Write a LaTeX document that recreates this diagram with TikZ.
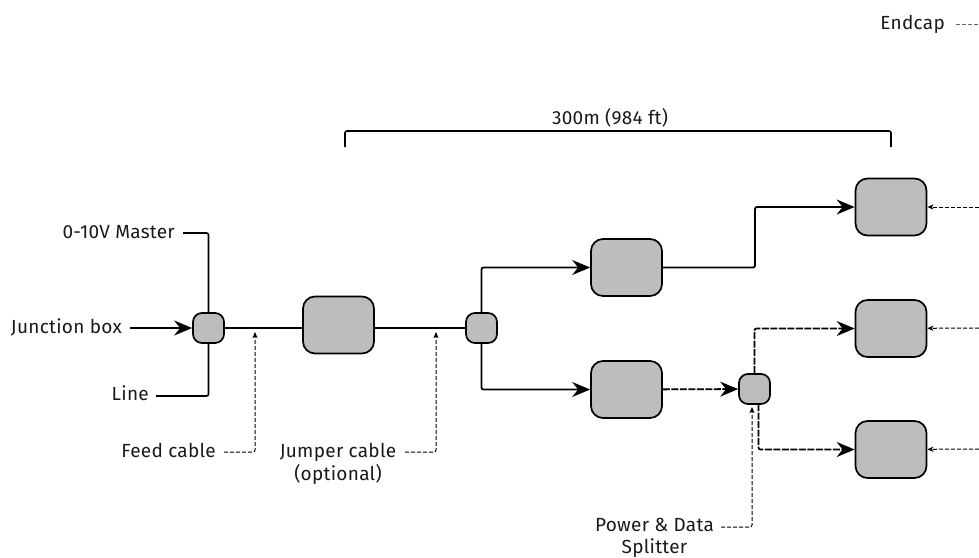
\documentclass[tikz,border=0pt]{standalone}
\usepackage{fontspec}
\setmainfont{Fira Sans}
\usetikzlibrary{arrows.meta, positioning}

\begin{document}
\begin{tikzpicture}[
          x=1pt, y=-1pt,
          every node/.style={align=center, font=\fontsize{19}{23.5}\selectfont\addfontfeature{LetterSpace=1.5}, text=black!90},
          label/.style={inner sep=0pt, text height=13pt, text depth=4pt},
          bigbox/.style={draw=black, line width=1.7pt, fill=black!26, rounded corners=12pt, minimum width=71pt, minimum height=57pt, inner sep=0pt},
          smallbox/.style={draw=black, line width=1.7pt, fill=black!26, rounded corners=9pt, minimum width=31pt, minimum height=30pt, inner sep=0pt},
          wire/.style={draw=black, line width=1.6pt, rounded corners=2pt},
          arrow/.style={-{Stealth[length=18pt, width=15pt, inset=6pt]}, line width=1.8pt, black, rounded corners=2pt},
          dasharrow/.style={arrow, dash pattern=on 7pt off 1.5pt},
          callout/.style={-{Stealth[length=6pt, width=5pt, inset=1.5pt]}, line width=1pt, black, dash pattern=on 4pt off 2pt, rounded corners=2pt}
        ]
          \useasboundingbox (0,0) rectangle (979,557);

          % Boxes
          \node[smallbox] (junction) at (208.5,328) {};
          \node[bigbox] (feedbox) at (338.5,325) {};
          \node[smallbox] (jumper) at (481.5,328) {};
          \node[bigbox] (upper) at (626.5,267.5) {};
          \node[bigbox] (lower) at (626.5,389.5) {};
          \node[smallbox] (splitter) at (754.5,389) {};
          \node[bigbox] (endA) at (891,207) {};
          \node[bigbox] (endB) at (891,328.5) {};
          \node[bigbox] (endC) at (891,449.5) {};

          % Labels
          \node[label, anchor=east] (masterlabel) at (175,234) {0-10V Master};
          \node[label, anchor=east] (junctionlabel) at (122,329) {Junction box};
          \node[label, anchor=east] (linelabel) at (149,396) {Line};
          \node[label, anchor=east] (feedlabel) at (216,453) {Feed cable};
          \node[anchor=north, inner sep=0pt] (jumperlabel) at (338,443) {Jumper cable\\(optional)};
          \node[anchor=north, inner sep=0pt] (splitterlabel) at (654.5,518) {Power \& Data\\[-2pt]Splitter};
          \node[label, anchor=east] (endcaplabel) at (945,25) {Endcap};
          \node[label] (spanlabel) at (610,120) {300m (984 ft)};

          % Free ends
          \coordinate (mastergap) at (183,233);
          \coordinate (linegap) at (156,396);
          \coordinate (junctionstart) at (130,328);
          \coordinate (feedstart) at (224,452);
          \coordinate (feedtip) at (255,332);
          \coordinate (jumperstart) at (405,452);
          \coordinate (jumpertip) at (436,332);
          \coordinate (splitterstart) at (721,527);
          \coordinate (splittertip) at (752,407);
          \coordinate (spanA) at (345,147);
          \coordinate (spanB) at (891,147);
          \coordinate (endcapstart) at (956,24);
          \coordinate (endcapstop) at (979,24);
          \coordinate (sideA) at (979,207);
          \coordinate (sideB) at (979,328);
          \coordinate (sideC) at (979,449);
          \coordinate (splitterB) at (758.5,404);

          % Solid wires
          \draw[wire] (mastergap) -| (junction.north);
          \draw[wire] (linegap) -| (junction.south);
          \draw[wire] (junction) -- (junction -| feedbox.west);
          \draw[wire] (feedbox.east |- jumper) -- (jumper);
          \draw[wire] (spanA) |- (610,131) -| (spanB);

          % Arrows
          \draw[arrow] (junctionstart) -- (junction);
          \draw[arrow] (jumper.north) |- (upper);
          \draw[arrow] (jumper.south) |- (lower);
          \draw[arrow] (upper) -| (755,207) -- (endA);
          \draw[dasharrow] (lower) -- (splitter);
          \draw[dasharrow] (splitter.north) |- (endB);
          \draw[dasharrow] (splitterB) |- (endC);

          % Callouts
          \draw[callout] (feedstart) -| (feedtip);
          \draw[callout] (jumperstart) -| (jumpertip);
          \draw[callout] (splitterstart) -| (splittertip);
          \draw[callout] (sideA) -- (endA);
          \draw[callout] (sideB) -- (endB);
          \draw[callout] (sideC) -- (endC);
          \draw[callout, -, black!60] (endcapstart) -- (endcapstop);
        \end{tikzpicture}
\end{document}
